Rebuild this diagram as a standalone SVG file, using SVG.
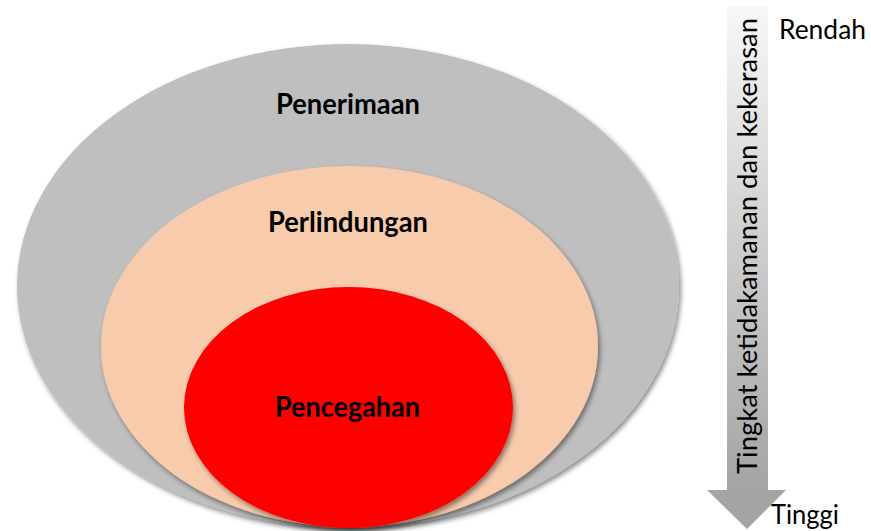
<svg xmlns="http://www.w3.org/2000/svg" width="871" height="531" viewBox="0 0 871 531">
  <style>
    .lbl { font-family: Lato, "Liberation Sans", "DejaVu Sans", sans-serif; font-weight: bold; font-size: 28px; fill: #000; text-anchor: middle; }
    .side { font-family: Lato, "Liberation Sans", "DejaVu Sans", sans-serif; font-size: 27px; fill: #000; }
  </style>
  <defs>
    <filter id="shadow" x="-10%" y="-10%" width="120%" height="125%">
      <feDropShadow dx="2" dy="3" stdDeviation="2.5" flood-color="#000" flood-opacity="0.45"/>
    </filter>
    <linearGradient id="arrowGrad" x1="0" y1="7" x2="0" y2="529" gradientUnits="userSpaceOnUse">
      <stop offset="0" stop-color="#f7f7f7"/>
      <stop offset="0.9" stop-color="#a6a6a6"/>
      <stop offset="1" stop-color="#a2a2a2"/>
    </linearGradient>
  </defs>
  <rect width="871" height="531" fill="#ffffff"/>

  <g id="node-penerimaan">
    <ellipse cx="348" cy="286" rx="331" ry="242" fill="#bfbfbf" filter="url(#shadow)"/>
    <text class="lbl" x="348" y="113.5" textLength="144" lengthAdjust="spacingAndGlyphs">Penerimaan</text>
  </g>

  <g id="node-perlindungan">
    <ellipse cx="349.5" cy="346.5" rx="248.5" ry="180.5" fill="#f8cbad" filter="url(#shadow)"/>
    <text class="lbl" x="348" y="231.5" textLength="160" lengthAdjust="spacingAndGlyphs">Perlindungan</text>
  </g>

  <g id="node-pencegahan">
    <ellipse cx="348.5" cy="407.5" rx="164.5" ry="120.5" fill="#ff0000" filter="url(#shadow)"/>
    <text class="lbl" x="347.5" y="416.7" textLength="145" lengthAdjust="spacingAndGlyphs">Pencegahan</text>
  </g>

  <g id="connectors">
    <g id="arrow">
      <path d="M727,7 L768,7 L768,490 L786,490 L747,529 L707,490 L727,490 Z" fill="url(#arrowGrad)"/>
      <text class="side" transform="translate(757,474) rotate(-90)" x="0" y="0" font-size="29" textLength="456" lengthAdjust="spacingAndGlyphs">Tingkat ketidakamanan dan kekerasan</text>
    </g>
  </g>

  <g id="label-rendah">
    <text class="side" x="779" y="39" textLength="87" lengthAdjust="spacingAndGlyphs">Rendah</text>
  </g>
  <g id="label-tinggi">
    <text class="side" x="771" y="523.5" textLength="68" lengthAdjust="spacingAndGlyphs">Tinggi</text>
  </g>
</svg>
